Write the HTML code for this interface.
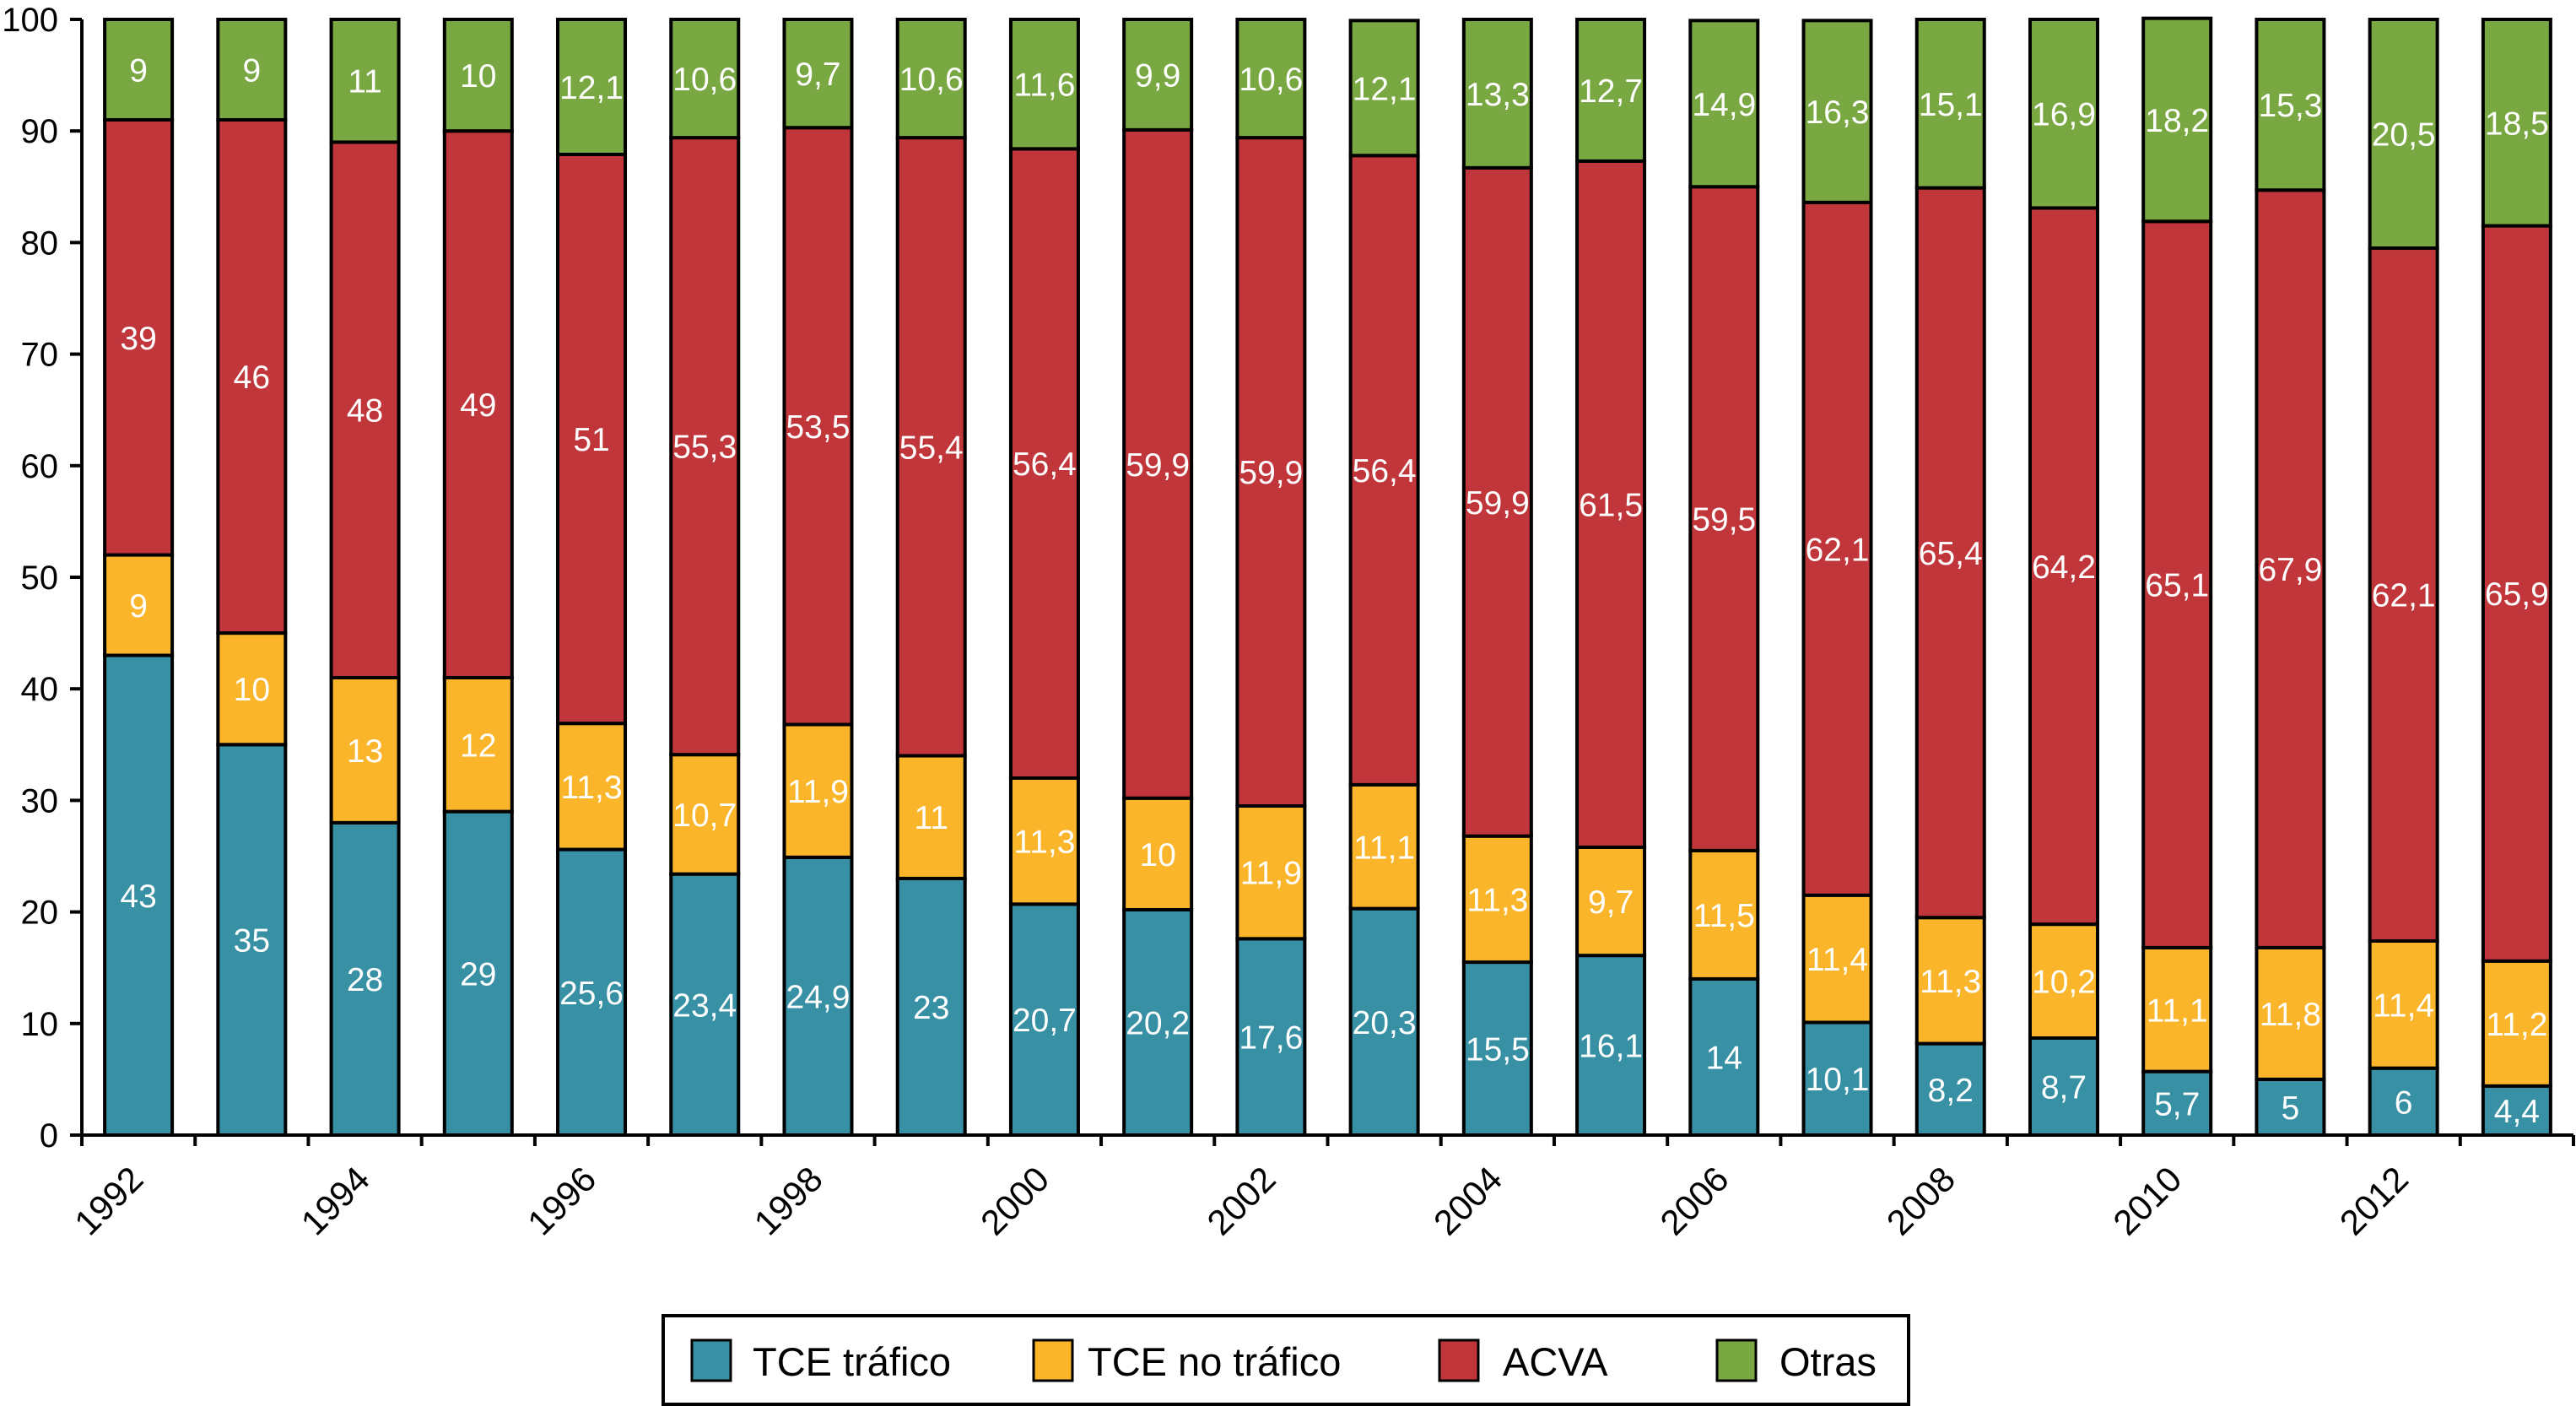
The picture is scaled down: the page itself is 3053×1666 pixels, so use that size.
<!DOCTYPE html>
<html><head><meta charset="utf-8"><style>
html,body{margin:0;padding:0;background:#fff}
svg{display:block;font-family:"Liberation Sans",Arial,sans-serif}
</style></head><body>
<svg id="chart" width="3053" height="1666" viewBox="0 0 3053 1666" xmlns="http://www.w3.org/2000/svg">
<g id="plot"></g>
<g id="legend">
  <rect x="786" y="1559" width="1476" height="105" fill="#fff" stroke="#000" stroke-width="4"/>
  <g><rect x="820" y="1588" width="46" height="48" fill="#3790a3" stroke="#000" stroke-width="3"/><text x="892" y="1630" font-size="47">TCE tráfico</text></g>
  <g><rect x="1225" y="1588" width="46" height="48" fill="#fbb52a" stroke="#000" stroke-width="3"/><text x="1289" y="1630" font-size="47">TCE no tráfico</text></g>
  <g><rect x="1706" y="1588" width="46" height="48" fill="#c1363a" stroke="#000" stroke-width="3"/><text x="1781" y="1630" font-size="47">ACVA</text></g>
  <g><rect x="2035" y="1588" width="46" height="48" fill="#79a843" stroke="#000" stroke-width="3"/><text x="2109" y="1630" font-size="47">Otras</text></g>
</g>
</svg>
<script>
const years = [1992,1993,1994,1995,1996,1997,1998,1999,2000,2001,2002,2003,2004,2005,2006,2007,2008,2009,2010,2011,2012,2013];
const tceTrafico = [43,35,28,29,25.6,23.4,24.9,23,20.7,20.2,17.6,20.3,15.5,16.1,14,10.1,8.2,8.7,5.7,5,6,4.4];
const tceNoTrafico = [9,10,13,12,11.3,10.7,11.9,11,11.3,10,11.9,11.1,11.3,9.7,11.5,11.4,11.3,10.2,11.1,11.8,11.4,11.2];
const acva = [39,46,48,49,51,55.3,53.5,55.4,56.4,59.9,59.9,56.4,59.9,61.5,59.5,62.1,65.4,64.2,65.1,67.9,62.1,65.9];
const otras = [9,9,11,10,12.1,10.6,9.7,10.6,11.6,9.9,10.6,12.1,13.3,12.7,14.9,16.3,15.1,16.9,18.2,15.3,20.5,18.5];
const yTicks = [0,10,20,30,40,50,60,70,80,90,100];
const seriesNames = ["tce-trafico","tce-no-trafico","acva","otras"];
const seriesColors = ["#3790a3","#fbb52a","#c1363a","#79a843"];

const NS="http://www.w3.org/2000/svg";
const plot=document.getElementById('plot');
const x0=97, x1=3050, y0=1345, yTop=23;
const band=(x1-x0)/years.length;
const yS=v=>y0-(v/100)*(y0-yTop);
const xC=i=>x0+band*(i+0.5);
function mk(tag,attrs){const e=document.createElementNS(NS,tag);for(const k in attrs)e.setAttribute(k,attrs[k]);return e;}

const series=[tceTrafico,tceNoTrafico,acva,otras];
const fmt=v=>String(v).replace('.',',');
years.forEach((yr,i)=>{
  let base=0;
  series.forEach((arr,s)=>{
    const v=arr[i];
    const r=mk('rect',{x:xC(i)-40,y:yS(base+v),width:80,height:yS(base)-yS(base+v),fill:seriesColors[s],stroke:'#000','stroke-width':4});
    
    
    plot.appendChild(r);
    const t=mk('text',{x:xC(i),y:yS(base+v/2)+14,'text-anchor':'middle','font-size':39,fill:'#fff'});
    
    
    t.textContent=fmt(v);
    plot.appendChild(t);
    base+=v;
  });
});
const ya=mk('line',{x1:x0,y1:yTop,x2:x0,y2:y0+2,stroke:'#000','stroke-width':4});


plot.appendChild(ya);
const xa=mk('line',{x1:x0-14,y1:y0,x2:x1,y2:y0,stroke:'#000','stroke-width':4});


plot.appendChild(xa);
yTicks.forEach(v=>{
  const l=mk('line',{x1:x0-14,y1:yS(v),x2:x0,y2:yS(v),stroke:'#000','stroke-width':4});
  
  
  plot.appendChild(l);
  const t=mk('text',{x:69,y:yS(v)+14,'text-anchor':'end','font-size':40});
  
  
  t.textContent=v;
  plot.appendChild(t);
});
for(let i=0;i<=years.length;i++){
  const x=x0+band*i;
  const l=mk('line',{x1:x,y1:y0,x2:x,y2:y0+13,stroke:'#000','stroke-width':4});
  
  
  plot.appendChild(l);
}
years.forEach((yr,i)=>{
  if(yr%2!==0)return;
  const x=xC(i)+8, y=1400;
  const t=mk('text',{x:x,y:y,'text-anchor':'end','font-size':42,transform:`rotate(-45 ${x} ${y})`});
  
  
  t.textContent=yr;
  plot.appendChild(t);
});
</script>
</body></html>
